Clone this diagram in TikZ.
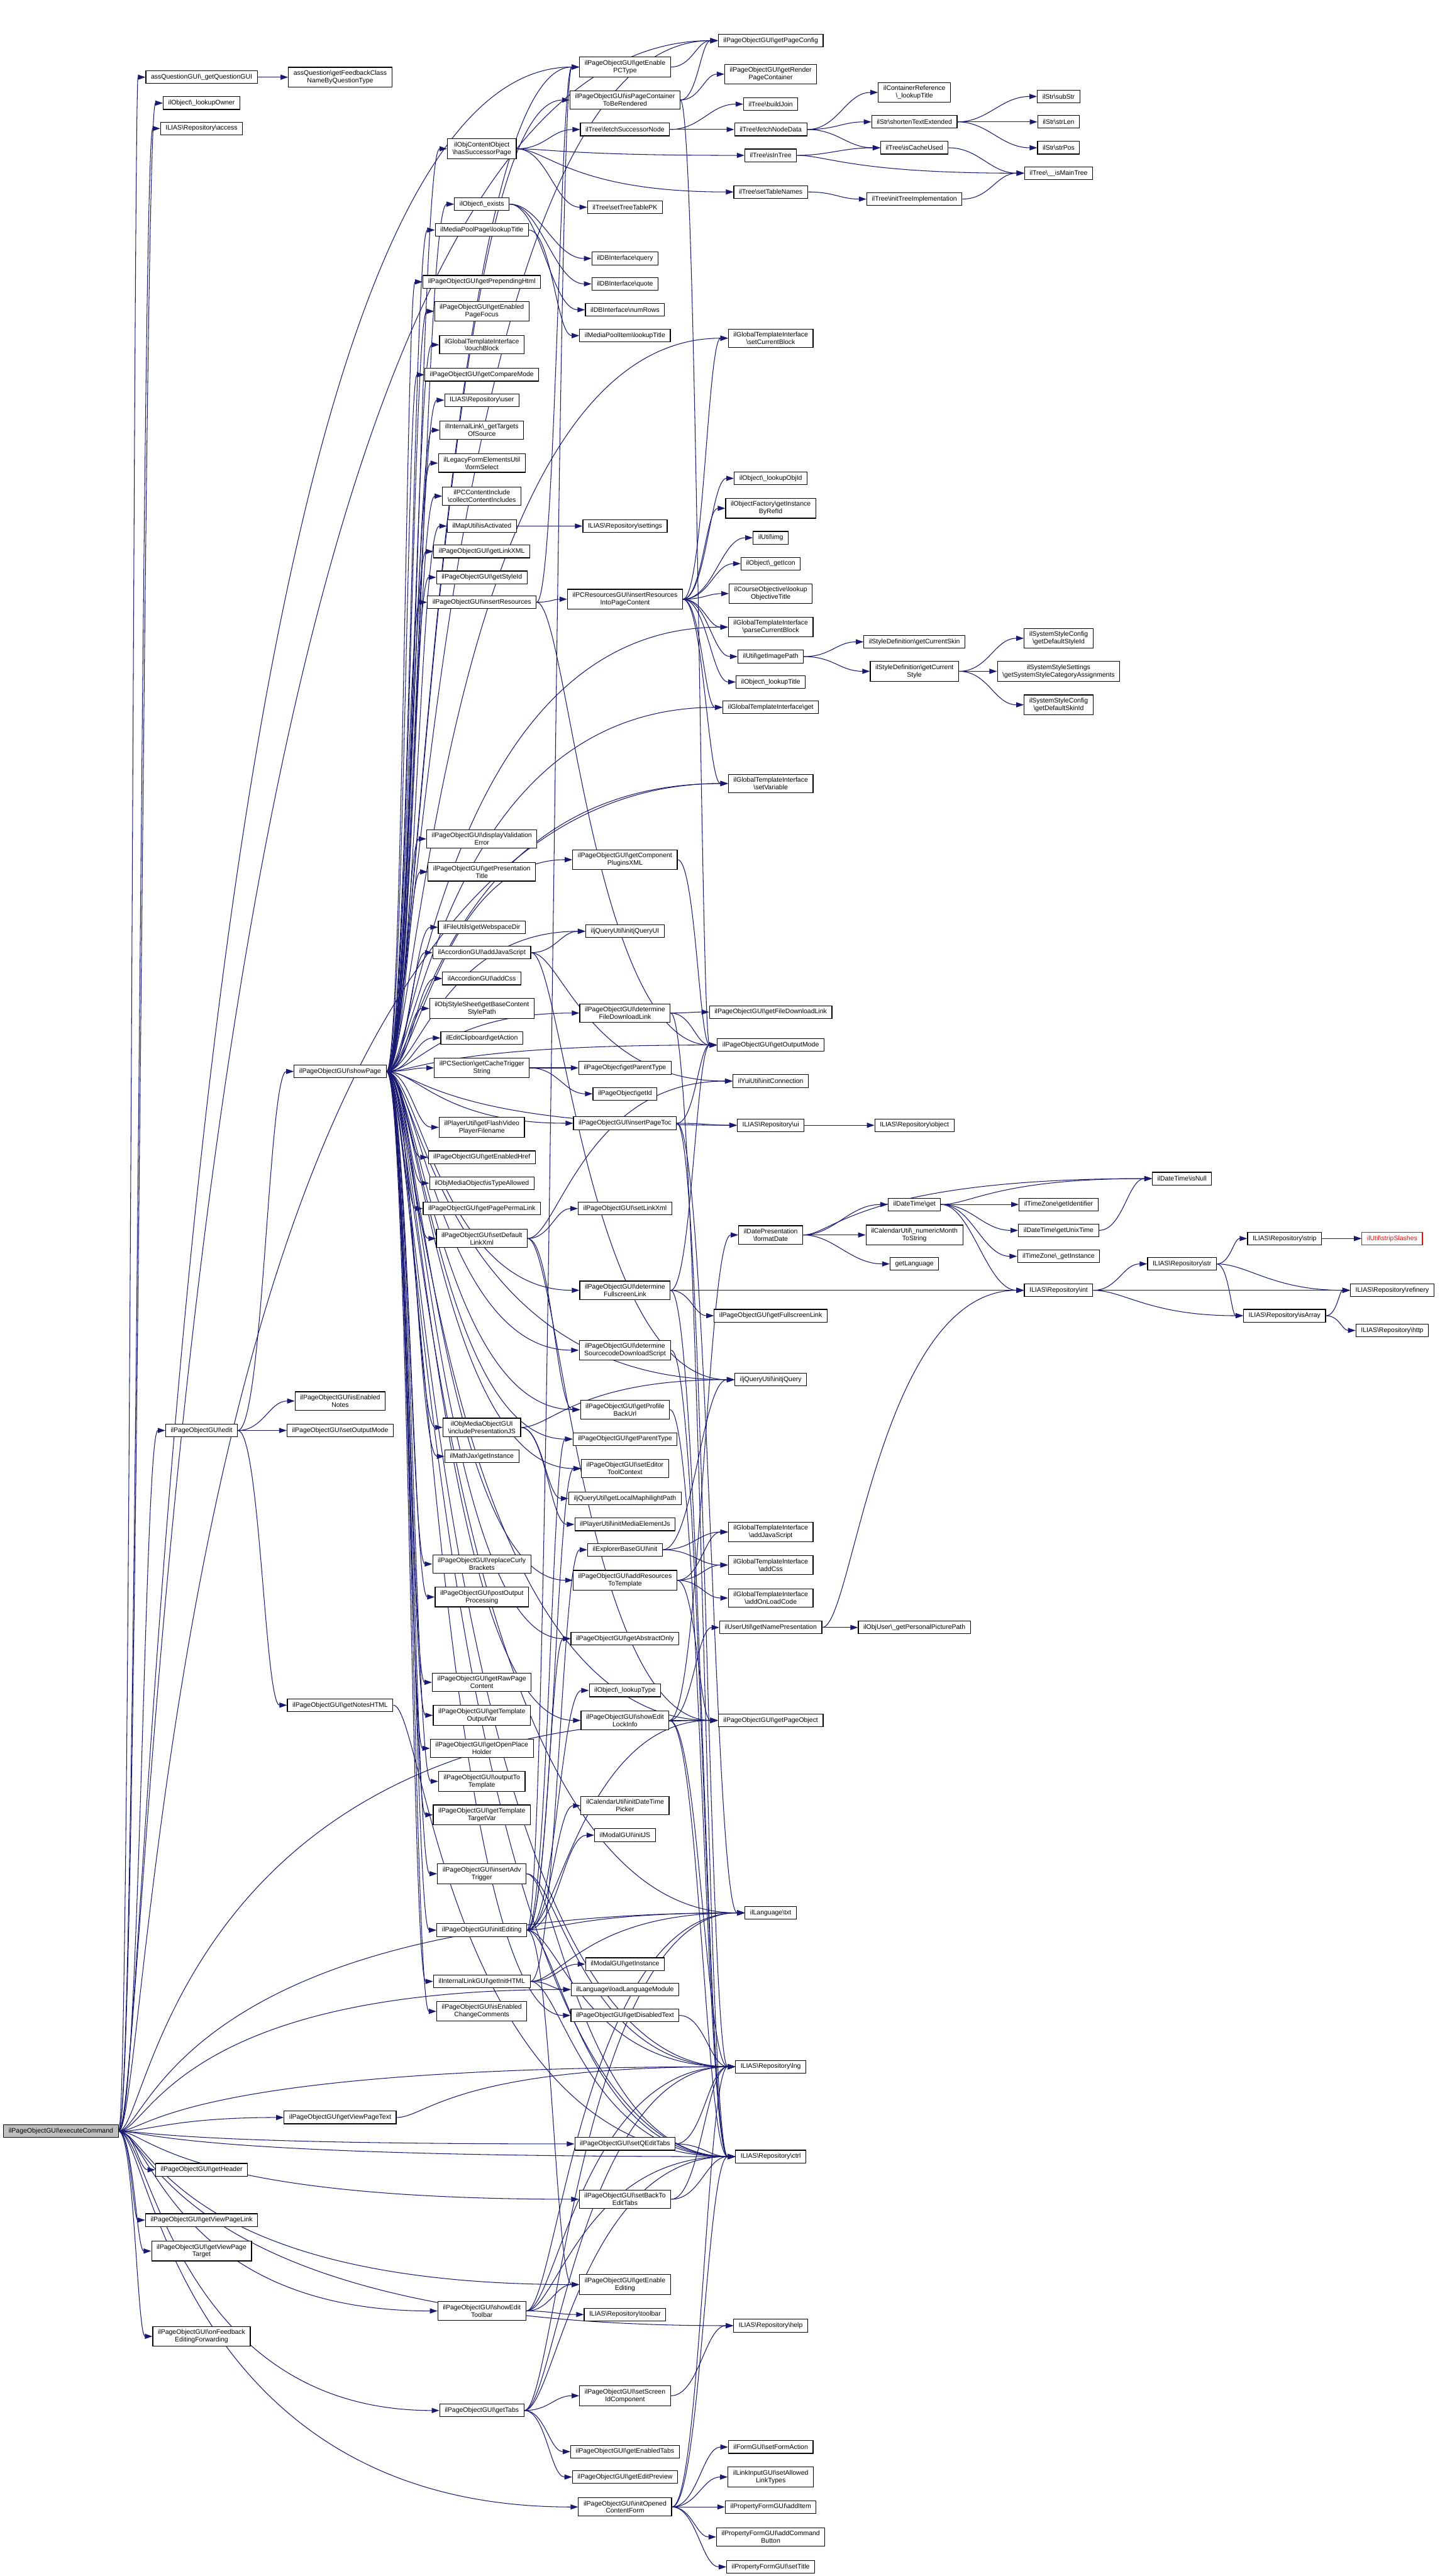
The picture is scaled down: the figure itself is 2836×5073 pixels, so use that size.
\documentclass[tikz,border=0pt]{standalone}
\usepackage{fontspec}
\setmainfont{Liberation Sans}
\usetikzlibrary{arrows.meta,calc}
\pgfdeclarelayer{bg}
\pgfsetlayers{bg,main}
\definecolor{navy}{HTML}{191970}
\newcommand\bsl{\textbackslash}
\newcommand\ed[2]{\draw[cedge] let \p1=(#1.east), \p2=(#2.west), \n1={max(min(0.45*(\x2-\x1),60),8)}, \n2={max(min(0.45*(\x2-\x1),120),(\x2-\x1)-110,8)} in (\p1) .. controls +(\n1,0) and +(-\n2,0) .. (\p2);}
\newcommand\nd[4]{\node[box] (#1) at (#2,#3) {#4};}
\begin{document}
\begin{tikzpicture}[x=1pt,y=-1pt,
  box/.style={draw=black, fill=white, line width=1.4pt, font=\fontsize{13}{14.8}\selectfont, inner xsep=10pt, inner ysep=6pt, minimum height=25pt, align=center},
  cedge/.style={draw=navy, line width=1.3pt, -{Triangle[length=15pt,width=10pt]}}]
\useasboundingbox (0,0) rectangle (2836,5073);
% col 0
\node[box,fill=gray!50] (exec) at (120,4197) {ilPageObjectGUI\bsl executeCommand};
% col 1
\nd{assq}{397}{152}{assQuestionGUI\bsl\_getQuestionGUI}
\nd{lookowner}{397}{203}{ilObject\bsl\_lookupOwner}
\nd{access}{397}{253}{ILIAS\bsl Repository\bsl access}
\nd{edit}{397}{2817}{ilPageObjectGUI\bsl edit}
\nd{gethead}{397}{4273}{ilPageObjectGUI\bsl getHeader}
\nd{vplink}{397}{4372}{ilPageObjectGUI\bsl getViewPageLink}
\nd{vptarget}{397}{4433}{ilPageObjectGUI\bsl getViewPage\\Target}
\nd{onfeed}{397}{4601}{ilPageObjectGUI\bsl onFeedback\\EditingForwarding}
% col 2
\nd{fbclass}{670}{152}{assQuestion\bsl getFeedbackClass\\NameByQuestionType}
\nd{showpage}{670}{2110}{ilPageObjectGUI\bsl showPage}
\nd{isennotes}{670}{2759}{ilPageObjectGUI\bsl isEnabled\\Notes}
\nd{setoutmode}{670}{2817}{ilPageObjectGUI\bsl setOutputMode}
\nd{notes}{670}{3358}{ilPageObjectGUI\bsl getNotesHTML}
\nd{vptext}{670}{4170}{ilPageObjectGUI\bsl getViewPageText}
% col 3
\nd{hassucc}{949}{293}{ilObjContentObject\\\bsl hasSuccessorPage}
\nd{exists}{949}{402}{ilObject\bsl\_exists}
\nd{mpplookup}{949}{453}{ilMediaPoolPage\bsl lookupTitle}
\nd{prepend}{949}{555}{ilPageObjectGUI\bsl getPrependingHtml}
\nd{pagefocus}{949}{613}{ilPageObjectGUI\bsl getEnabled\\PageFocus}
\nd{touch}{949}{679}{ilGlobalTemplateInterface\\\bsl touchBlock}
\nd{compare}{949}{738}{ilPageObjectGUI\bsl getCompareMode}
\nd{user}{949}{788}{ILIAS\bsl Repository\bsl user}
\nd{targets}{949}{847}{ilInternalLink\bsl\_getTargets\\OfSource}
\nd{formsel}{949}{912}{ilLegacyFormElementsUtil\\\bsl formSelect}
\nd{collect}{949}{977}{ilPCContentInclude\\\bsl collectContentIncludes}
\nd{mapact}{949}{1036}{ilMapUtil\bsl isActivated}
\nd{linkxml}{949}{1086}{ilPageObjectGUI\bsl getLinkXML}
\nd{styleid}{949}{1137}{ilPageObjectGUI\bsl getStyleId}
\nd{insres}{949}{1186}{ilPageObjectGUI\bsl insertResources}
\nd{dispval}{949}{1652}{ilPageObjectGUI\bsl displayValidation\\Error}
\nd{prestitle}{949}{1717}{ilPageObjectGUI\bsl getPresentation\\Title}
\nd{webspace}{949}{1826}{ilFileUtils\bsl getWebspaceDir}
\nd{accjs}{949}{1876}{ilAccordionGUI\bsl addJavaScript}
\nd{acccss}{949}{1927}{ilAccordionGUI\bsl addCss}
\nd{basecss}{949}{1986}{ilObjStyleSheet\bsl getBaseContent\\StylePath}
\nd{clipaction}{949}{2044}{ilEditClipboard\bsl getAction}
\nd{cachetrig}{949}{2103}{ilPCSection\bsl getCacheTrigger\\String}
\nd{flashvid}{949}{2220}{ilPlayerUtil\bsl getFlashVideo\\PlayerFilename}
\nd{enhref}{949}{2279}{ilPageObjectGUI\bsl getEnabledHref}
\nd{typeallowed}{949}{2330}{ilObjMediaObject\bsl isTypeAllowed}
\nd{permalink}{949}{2380}{ilPageObjectGUI\bsl getPagePermaLink}
\nd{setdeflink}{949}{2439}{ilPageObjectGUI\bsl setDefault\\LinkXml}
\nd{mobpresjs}{949}{2811}{ilObjMediaObjectGUI\\\bsl includePresentationJS}
\nd{mathjax}{949}{2868}{ilMathJax\bsl getInstance}
\nd{curly}{949}{3080}{ilPageObjectGUI\bsl replaceCurly\\Brackets}
\nd{postout}{949}{3145}{ilPageObjectGUI\bsl postOutput\\Processing}
\nd{rawpage}{949}{3313}{ilPageObjectGUI\bsl getRawPage\\Content}
\nd{tplout}{949}{3378}{ilPageObjectGUI\bsl getTemplate\\OutputVar}
\nd{openph}{949}{3443}{ilPageObjectGUI\bsl getOpenPlace\\Holder}
\nd{outtpl}{949}{3508}{ilPageObjectGUI\bsl outputTo\\Template}
\nd{tpltarget}{949}{3574}{ilPageObjectGUI\bsl getTemplate\\TargetVar}
\nd{advtrig}{949}{3690}{ilPageObjectGUI\bsl insertAdv\\Trigger}
\nd{initedit}{949}{3801}{ilPageObjectGUI\bsl initEditing}
\nd{intlink}{949}{3902}{ilInternalLinkGUI\bsl getInitHTML}
\nd{chgcomm}{949}{3961}{ilPageObjectGUI\bsl isEnabled\\ChangeComments}
\nd{edittb}{949}{4551}{ilPageObjectGUI\bsl showEdit\\Toolbar}
\nd{gettabs}{949}{4747}{ilPageObjectGUI\bsl getTabs}
% col 4
\nd{enpctype}{1231}{132}{ilPageObjectGUI\bsl getEnable\\PCType}
\nd{pcontainer}{1231}{197}{ilPageObjectGUI\bsl isPageContainer\\ToBeRendered}
\nd{fetchsucc}{1231}{255}{ilTree\bsl fetchSuccessorNode}
\nd{treepk}{1231}{408}{ilTree\bsl setTreeTablePK}
\nd{dbquery}{1231}{509}{ilDBInterface\bsl query}
\nd{dbquote}{1231}{559}{ilDBInterface\bsl quote}
\nd{dbnum}{1231}{610}{ilDBInterface\bsl numRows}
\nd{mpilookup}{1231}{661}{ilMediaPoolItem\bsl lookupTitle}
\nd{settings}{1231}{1036}{ILIAS\bsl Repository\bsl settings}
\nd{resintopc}{1231}{1180}{ilPCResourcesGUI\bsl insertResources\\IntoPageContent}
\nd{pluginsxml}{1231}{1693}{ilPageObjectGUI\bsl getComponent\\PluginsXML}
\nd{jqui}{1231}{1834}{iljQueryUtil\bsl initjQueryUI}
\nd{detfile}{1231}{1995}{ilPageObjectGUI\bsl determine\\FileDownloadLink}
\nd{poparent}{1231}{2103}{ilPageObject\bsl getParentType}
\nd{poid}{1231}{2154}{ilPageObject\bsl getId}
\nd{pagetoc}{1231}{2212}{ilPageObjectGUI\bsl insertPageToc}
\nd{setlinkxml}{1231}{2380}{ilPageObjectGUI\bsl setLinkXml}
\nd{detfull}{1231}{2541}{ilPageObjectGUI\bsl determine\\FullscreenLink}
\nd{detsrc}{1231}{2659}{ilPageObjectGUI\bsl determine\\SourcecodeDownloadScript}
\nd{profback}{1231}{2776}{ilPageObjectGUI\bsl getProfile\\BackUrl}
\nd{parenttype}{1231}{2834}{ilPageObjectGUI\bsl getParentType}
\nd{edtoolctx}{1231}{2892}{ilPageObjectGUI\bsl setEditor\\ToolContext}
\nd{maphl}{1231}{2951}{iljQueryUtil\bsl getLocalMaphilightPath}
\nd{mediael}{1231}{3002}{ilPlayerUtil\bsl initMediaElementJs}
\nd{explinit}{1231}{3052}{ilExplorerBaseGUI\bsl init}
\nd{addres}{1231}{3112}{ilPageObjectGUI\bsl addResources\\ToTemplate}
\nd{abstract}{1231}{3227}{ilPageObjectGUI\bsl getAbstractOnly}
\nd{lookuptype}{1231}{3329}{ilObject\bsl\_lookupType}
\nd{lockinfo}{1231}{3388}{ilPageObjectGUI\bsl showEdit\\LockInfo}
\nd{datepicker}{1231}{3556}{ilCalendarUtil\bsl initDateTime\\Picker}
\nd{modaljs}{1231}{3614}{ilModalGUI\bsl initJS}
\nd{modalinst}{1231}{3868}{ilModalGUI\bsl getInstance}
\nd{loadlang}{1231}{3918}{ilLanguage\bsl loadLanguageModule}
\nd{disabledtxt}{1231}{3969}{ilPageObjectGUI\bsl getDisabledText}
\nd{qedittabs}{1231}{4222}{ilPageObjectGUI\bsl setQEditTabs}
\nd{backtabs}{1231}{4331}{ilPageObjectGUI\bsl setBackTo\\EditTabs}
\nd{enedit}{1231}{4499}{ilPageObjectGUI\bsl getEnable\\Editing}
\nd{toolbar}{1231}{4558}{ILIAS\bsl Repository\bsl toolbar}
\nd{screenid}{1231}{4718}{ilPageObjectGUI\bsl setScreen\\IdComponent}
\nd{entabs}{1231}{4828}{ilPageObjectGUI\bsl getEnabledTabs}
\nd{editprev}{1231}{4878}{ilPageObjectGUI\bsl getEditPreview}
\nd{openform}{1231}{4937}{ilPageObjectGUI\bsl initOpened\\ContentForm}
% col 5
\nd{pageconfig}{1518}{80}{ilPageObjectGUI\bsl getPageConfig}
\nd{renderpc}{1518}{146}{ilPageObjectGUI\bsl getRender\\PageContainer}
\nd{buildjoin}{1518}{205}{ilTree\bsl buildJoin}
\nd{fetchnode}{1518}{255}{ilTree\bsl fetchNodeData}
\nd{isintree}{1518}{306}{ilTree\bsl isInTree}
\nd{settablenames}{1518}{378}{ilTree\bsl setTableNames}
\nd{setcurblock}{1518}{666}{ilGlobalTemplateInterface\\\bsl setCurrentBlock}
\nd{lookupobjid}{1518}{942}{ilObject\bsl\_lookupObjId}
\nd{instbyref}{1518}{1001}{ilObjectFactory\bsl getInstance\\ByRefId}
\nd{img}{1518}{1059}{ilUtil\bsl img}
\nd{geticon}{1518}{1110}{ilObject\bsl\_getIcon}
\nd{objtitle}{1518}{1169}{ilCourseObjective\bsl lookup\\ObjectiveTitle}
\nd{parseblock}{1518}{1235}{ilGlobalTemplateInterface\\\bsl parseCurrentBlock}
\nd{imgpath}{1518}{1293}{ilUtil\bsl getImagePath}
\nd{lookuptitle}{1518}{1343}{ilObject\bsl\_lookupTitle}
\nd{tplget}{1518}{1393}{ilGlobalTemplateInterface\bsl get}
\nd{setvar}{1518}{1543}{ilGlobalTemplateInterface\\\bsl setVariable}
\nd{filedl}{1518}{1993}{ilPageObjectGUI\bsl getFileDownloadLink}
\nd{outmode}{1518}{2058}{ilPageObjectGUI\bsl getOutputMode}
\nd{yuiconn}{1518}{2129}{ilYuiUtil\bsl initConnection}
\nd{repui}{1518}{2216}{ILIAS\bsl Repository\bsl ui}
\nd{formatdate}{1518}{2432}{ilDatePresentation\\\bsl formatDate}
\nd{fullscreen}{1518}{2591}{ilPageObjectGUI\bsl getFullscreenLink}
\nd{jquery}{1518}{2717}{iljQueryUtil\bsl initjQuery}
\nd{addjs}{1518}{3017}{ilGlobalTemplateInterface\\\bsl addJavaScript}
\nd{addcss}{1518}{3082}{ilGlobalTemplateInterface\\\bsl addCss}
\nd{onload}{1518}{3147}{ilGlobalTemplateInterface\\\bsl addOnLoadCode}
\nd{namepres}{1518}{3205}{ilUserUtil\bsl getNamePresentation}
\nd{pageobj}{1518}{3388}{ilPageObjectGUI\bsl getPageObject}
\nd{txt}{1518}{3767}{ilLanguage\bsl txt}
\nd{lng}{1518}{4070}{ILIAS\bsl Repository\bsl lng}
\nd{ctrl}{1518}{4247}{ILIAS\bsl Repository\bsl ctrl}
\nd{help}{1518}{4580}{ILIAS\bsl Repository\bsl help}
\nd{formaction}{1518}{4819}{ilFormGUI\bsl setFormAction}
\nd{linktypes}{1518}{4878}{ilLinkInputGUI\bsl setAllowed\\LinkTypes}
\nd{additem}{1518}{4937}{ilPropertyFormGUI\bsl addItem}
\nd{cmdbutton}{1518}{4996}{ilPropertyFormGUI\bsl addCommand\\Button}
\nd{settitle}{1518}{5055}{ilPropertyFormGUI\bsl setTitle}
% col 6
\nd{contref}{1801}{182}{ilContainerReference\\\bsl\_lookupTitle}
\nd{shorten}{1801}{240}{ilStr\bsl shortenTextExtended}
\nd{cacheused}{1801}{291}{ilTree\bsl isCacheUsed}
\nd{treeimpl}{1801}{392}{ilTree\bsl initTreeImplementation}
\nd{curskin}{1801}{1264}{ilStyleDefinition\bsl getCurrentSkin}
\nd{curstyle}{1801}{1322}{ilStyleDefinition\bsl getCurrent\\Style}
\nd{repobject}{1801}{2216}{ILIAS\bsl Repository\bsl object}
\nd{dtget}{1801}{2372}{ilDateTime\bsl get}
\nd{monthstr}{1801}{2432}{ilCalendarUtil\bsl\_numericMonth\\ToString}
\nd{getlang}{1801}{2489}{getLanguage}
\nd{picpath}{1801}{3205}{ilObjUser\bsl\_getPersonalPicturePath}
% col 7
\nd{substr}{2085}{190}{ilStr\bsl subStr}
\nd{strlen}{2085}{240}{ilStr\bsl strLen}
\nd{strpos}{2085}{291}{ilStr\bsl strPos}
\nd{maintree}{2085}{341}{ilTree\bsl\_\_isMainTree}
\nd{defstyle}{2085}{1257}{ilSystemStyleConfig\\\bsl getDefaultStyleId}
\nd{catassign}{2085}{1322}{ilSystemStyleSettings\\\bsl getSystemStyleCategoryAssignments}
\nd{defskin}{2085}{1388}{ilSystemStyleConfig\\\bsl getDefaultSkinId}
\nd{tzident}{2085}{2372}{ilTimeZone\bsl getIdentifier}
\nd{unixtime}{2085}{2423}{ilDateTime\bsl getUnixTime}
\nd{tzinst}{2085}{2474}{ilTimeZone\bsl\_getInstance}
\nd{repint}{2085}{2541}{ILIAS\bsl Repository\bsl int}
% col 8-10
\nd{isnull}{2328}{2321}{ilDateTime\bsl isNull}
\nd{repstr}{2328}{2489}{ILIAS\bsl Repository\bsl str}
\nd{strip}{2530}{2439}{ILIAS\bsl Repository\bsl strip}
\nd{isarray}{2530}{2591}{ILIAS\bsl Repository\bsl isArray}
\node[box,draw=red,text=red] (stripslashes) at (2742,2439) {ilUtil\bsl stripSlashes};
\nd{refinery}{2742}{2541}{ILIAS\bsl Repository\bsl refinery}
\nd{http}{2742}{2620}{ILIAS\bsl Repository\bsl http}
% edges
\begin{pgfonlayer}{bg}
\fill[white] (0,0) rectangle (2836,5073);
\foreach \tg in {assq,lookowner,access,edit,pageconfig,enpctype,setvar,loadlang,txt,lng,ctrl,qedittabs,backtabs,enedit,edittb,gettabs,openform,vptext,gethead,vplink,vptarget,onfeed,pageobj,help} {\ed{exec}{\tg}}
\ed{assq}{fbclass}
\foreach \tg in {showpage,isennotes,setoutmode,notes} {\ed{edit}{\tg}}
\ed{notes}{ctrl}
\ed{vptext}{lng}
\foreach \tg in {hassucc,exists,mpplookup,prepend,pagefocus,touch,compare,user,targets,formsel,collect,mapact,linkxml,styleid,insres,dispval,prestitle,webspace,accjs,acccss,basecss,clipaction,cachetrig,flashvid,enhref,typeallowed,permalink,setdeflink,mobpresjs,mathjax,curly,postout,rawpage,tplout,openph,outtpl,tpltarget,advtrig,initedit,intlink,chgcomm} {\ed{showpage}{\tg}}
\foreach \tg in {pageconfig,enpctype,pcontainer,setcurblock,tplget,setvar,pluginsxml,jqui,detfile,outmode,pagetoc,detfull,detsrc,profback,parenttype,edtoolctx,addres,abstract,lockinfo,disabledtxt,pageobj,txt,lng,ctrl,jquery,repui,parseblock} {\ed{showpage}{\tg}}
\foreach \tg in {fetchsucc,isintree,settablenames,treepk} {\ed{hassucc}{\tg}}
\foreach \tg in {buildjoin,fetchnode} {\ed{fetchsucc}{\tg}}
\foreach \tg in {contref,shorten,cacheused} {\ed{fetchnode}{\tg}}
\foreach \tg in {cacheused,maintree} {\ed{isintree}{\tg}}
\ed{settablenames}{treeimpl}
\ed{cacheused}{maintree}
\ed{treeimpl}{maintree}
\foreach \tg in {substr,strlen,strpos} {\ed{shorten}{\tg}}
\foreach \tg in {dbquery,dbquote,dbnum} {\ed{exists}{\tg}}
\ed{mpplookup}{mpilookup}
\ed{mapact}{settings}
\foreach \tg in {enpctype,resintopc,outmode} {\ed{insres}{\tg}}
\foreach \tg in {setcurblock,lookupobjid,instbyref,img,geticon,objtitle,parseblock,imgpath,lookuptitle,tplget,setvar} {\ed{resintopc}{\tg}}
\foreach \tg in {curskin,curstyle} {\ed{imgpath}{\tg}}
\foreach \tg in {defstyle,catassign,defskin} {\ed{curstyle}{\tg}}
\foreach \tg in {pageconfig,renderpc,outmode} {\ed{pcontainer}{\tg}}
\ed{enpctype}{pageconfig}
\ed{pluginsxml}{outmode}
\foreach \tg in {jqui,yuiconn,jquery} {\ed{accjs}{\tg}}
\foreach \tg in {filedl,outmode,ctrl} {\ed{detfile}{\tg}}
\foreach \tg in {poparent,poid} {\ed{cachetrig}{\tg}}
\foreach \tg in {outmode,repui,lng,txt} {\ed{pagetoc}{\tg}}
\ed{repui}{repobject}
\foreach \tg in {setlinkxml,profback,yuiconn,pageobj} {\ed{setdeflink}{\tg}}
\foreach \tg in {fullscreen,outmode,repint,ctrl} {\ed{detfull}{\tg}}
\ed{detsrc}{ctrl}
\ed{profback}{ctrl}
\foreach \tg in {dtget,monthstr,getlang,isnull} {\ed{formatdate}{\tg}}
\foreach \tg in {isnull,tzident,unixtime,tzinst,repint} {\ed{dtget}{\tg}}
\ed{unixtime}{isnull}
\foreach \tg in {repstr,refinery,isarray} {\ed{repint}{\tg}}
\foreach \tg in {strip,refinery,isarray} {\ed{repstr}{\tg}}
\ed{strip}{stripslashes}
\foreach \tg in {refinery,http} {\ed{isarray}{\tg}}
\foreach \tg in {picpath,repint} {\ed{namepres}{\tg}}
\foreach \tg in {jquery,maphl,mediael} {\ed{mobpresjs}{\tg}}
\foreach \tg in {jquery,addjs,addcss} {\ed{explinit}{\tg}}
\foreach \tg in {addjs,addcss,onload,pageobj} {\ed{addres}{\tg}}
\foreach \tg in {pageobj,namepres,formatdate,lng,ctrl} {\ed{lockinfo}{\tg}}
\foreach \tg in {enpctype,edtoolctx,abstract,lookuptype,datepicker,modaljs,pageobj,enedit,lng,ctrl,txt,parenttype} {\ed{initedit}{\tg}}
\foreach \tg in {modalinst,loadlang,txt,explinit,ctrl} {\ed{intlink}{\tg}}
\foreach \tg in {ctrl,lng} {\ed{advtrig}{\tg}}
\ed{disabledtxt}{lng}
\foreach \tg in {ctrl,lng} {\ed{qedittabs}{\tg}}
\foreach \tg in {ctrl,lng} {\ed{backtabs}{\tg}}
\foreach \tg in {enedit,toolbar,txt,ctrl,lng} {\ed{edittb}{\tg}}
\foreach \tg in {screenid,entabs,editprev,ctrl,lng,txt} {\ed{gettabs}{\tg}}
\ed{screenid}{help}
\foreach \tg in {formaction,linktypes,additem,cmdbutton,settitle,lng,ctrl} {\ed{openform}{\tg}}
\end{pgfonlayer}
\end{tikzpicture}
\end{document}
